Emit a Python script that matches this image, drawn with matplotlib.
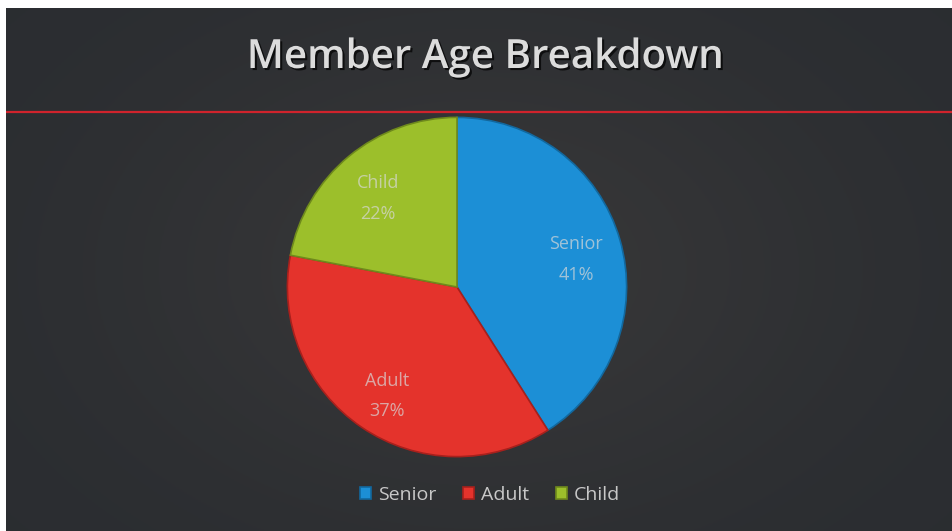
import numpy as np
import matplotlib.pyplot as plt
import matplotlib.patheffects as pe

# member age data
labels = ['Senior', 'Adult', 'Child']
shares = [41, 37, 22]
colors = ['#1c8fd6', '#e4332c', '#9cbf2b']
edges = ['#12689e', '#a8201c', '#6f8a1c']

W, H = 952, 531
fig = plt.figure(figsize=(W / 100, H / 100), dpi=100)
fig.patch.set_facecolor('white')

# dark slide background with a soft lighter middle
bg = fig.add_axes([6 / W, 0, 1 - 6 / W, 1 - 8 / H])
bg.set_axis_off()
yy, xx = np.mgrid[-1:1:200j, -1:1:340j]
glow = np.exp(-(xx ** 2 / 0.6 + yy ** 2 / 0.9))
base = np.array([0.165, 0.175, 0.19])
top = np.array([0.215, 0.215, 0.22])
img = base[None, None, :] + (top - base)[None, None, :] * glow[:, :, None]
bg.imshow(img, aspect='auto', extent=[0, 1, 0, 1])
bg.set_xlim(0, 1)
bg.set_ylim(0, 1)

# red rule under the title
bg.axhline(1 - (112 - 8) / (H - 8), color='#d0232c', lw=1.6)

fig.text(485 / W, 1 - 58 / H, 'Member Age Breakdown', ha='center', va='center',
         fontsize=29, color='#dcdcdc', family='Open Sans', fontweight='semibold',
         path_effects=[pe.withSimplePatchShadow(offset=(1.5, -1.5), shadow_rgbFace='black', alpha=0.7)])

# pie
cx, cy, r = 457, 287, 173
ax = fig.add_axes([(cx - r) / W, 1 - (cy + r) / H, 2 * r / W, 2 * r / H])
ax.set_axis_off()
wedges, _ = ax.pie(shares, colors=colors, startangle=90, counterclock=False,
                   wedgeprops=dict(linewidth=1.2))
for w, ec in zip(wedges, edges):
    w.set_edgecolor(ec)
ax.set_xlim(-1.02, 1.02)
ax.set_ylim(-1.02, 1.02)

for w, lab, v in zip(wedges, labels, shares):
    mid = np.deg2rad((w.theta1 + w.theta2) / 2)
    ax.text(0.73 * np.cos(mid), 0.73 * np.sin(mid) - 0.04, f'{lab}\n{v}%', ha='center', va='center',
            fontsize=13, color='#d8d8d8', alpha=0.7, linespacing=1.9, family='Open Sans')

leg = fig.legend(wedges, labels, loc='center', bbox_to_anchor=(490 / W, 1 - 495 / H), ncol=3,
                 frameon=False, handlelength=0.55, handleheight=0.55, handletextpad=0.35,
                 columnspacing=1.4, prop=dict(family='Open Sans', size=14))
for t in leg.get_texts():
    t.set_color('#c8c8c8')

fig.savefig('out.png', dpi=100, facecolor=fig.get_facecolor())
